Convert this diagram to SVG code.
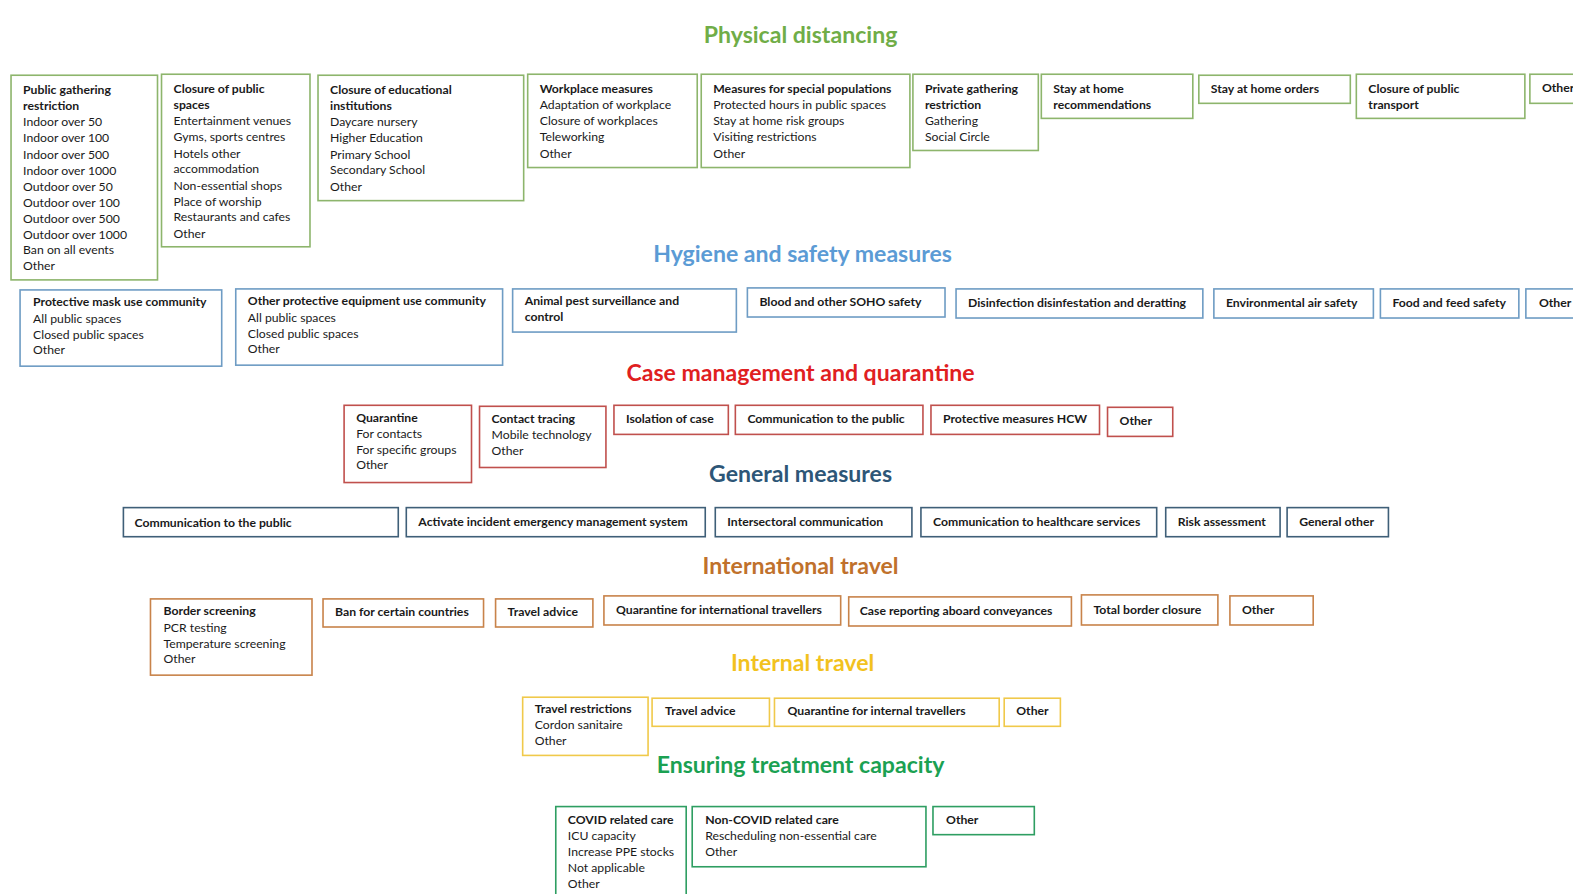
<svg xmlns="http://www.w3.org/2000/svg" width="1573" height="894" viewBox="0 0 1573 894">
<style>
text{font-family:Lato,"Open Sans","Liberation Sans",sans-serif;font-size:12.2px;fill:#1a1a1a}
.h{font-weight:bold}
.t{font-weight:bold;font-size:23px;text-anchor:middle}
rect{fill:#fff;stroke-width:1.6}
.pd rect{stroke:#8db56c}
.hy rect{stroke:#6e9cc4}
.cm rect{stroke:#c0504d}
.gm rect{stroke:#3f5f78}
.it rect{stroke:#c8834a}
.in rect{stroke:#f0c94a}
.et rect{stroke:#2e9e62}
</style>
<rect x="0" y="0" width="1573" height="894" fill="#fff" stroke="none"/>
<g transform="scale(1.0032)">
<g id="titles">
<text class="t" x="798" y="43" style="fill:#70ad47">Physical distancing</text>
<text class="t" x="800" y="261" style="fill:#5b9bd5">Hygiene and safety measures</text>
<text class="t" x="798" y="380" style="fill:#e0201f">Case management and quarantine</text>
<text class="t" x="798" y="480" style="fill:#2d5677">General measures</text>
<text class="t" x="798" y="572" style="fill:#c0712c">International travel</text>
<text class="t" x="800" y="669" style="fill:#f2c21e">Internal travel</text>
<text class="t" x="798" y="771" style="fill:#1ba152">Ensuring treatment capacity</text>
</g>
<g id="connectors"></g>

<g class="pd">
<g id="pd1"><rect x="11" y="75" width="146" height="204"/>
<text x="23" y="94"><tspan class="h">Public gathering</tspan><tspan x="23" dy="16" class="h">restriction</tspan><tspan x="23" dy="16">Indoor over 50</tspan><tspan x="23" dy="16">Indoor over 100</tspan><tspan x="23" dy="16">Indoor over 500</tspan><tspan x="23" dy="16">Indoor over 1000</tspan><tspan x="23" dy="16">Outdoor over 50</tspan><tspan x="23" dy="16">Outdoor over 100</tspan><tspan x="23" dy="16">Outdoor over 500</tspan><tspan x="23" dy="16">Outdoor over 1000</tspan><tspan x="23" dy="15">Ban on all events</tspan><tspan x="23" dy="16">Other</tspan></text></g>
<g id="pd2"><rect x="161" y="74" width="148" height="172"/>
<text x="173" y="93"><tspan class="h">Closure of public</tspan><tspan x="173" dy="16" class="h">spaces</tspan><tspan x="173" dy="16">Entertainment venues</tspan><tspan x="173" dy="16">Gyms, sports centres</tspan><tspan x="173" dy="16">Hotels other</tspan><tspan x="173" dy="15">accommodation</tspan><tspan x="173" dy="17">Non-essential shops</tspan><tspan x="173" dy="16">Place of worship</tspan><tspan x="173" dy="15">Restaurants and cafes</tspan><tspan x="173" dy="17">Other</tspan></text></g>
<g id="pd3"><rect x="317" y="75" width="205" height="125"/>
<text x="329" y="94"><tspan class="h">Closure of educational</tspan><tspan x="329" dy="16" class="h">institutions</tspan><tspan x="329" dy="16">Daycare nursery</tspan><tspan x="329" dy="16">Higher Education</tspan><tspan x="329" dy="16">Primary School</tspan><tspan x="329" dy="15">Secondary School</tspan><tspan x="329" dy="17">Other</tspan></text></g>
<g id="pd4"><rect x="526" y="74" width="169" height="93"/>
<text x="538" y="93"><tspan class="h">Workplace measures</tspan><tspan x="538" dy="16">Adaptation of workplace</tspan><tspan x="538" dy="16">Closure of workplaces</tspan><tspan x="538" dy="16">Teleworking</tspan><tspan x="538" dy="16">Other</tspan></text></g>
<g id="pd5"><rect x="699" y="74" width="208" height="93"/>
<text x="711" y="93"><tspan class="h">Measures for special populations</tspan><tspan x="711" dy="16">Protected hours in public spaces</tspan><tspan x="711" dy="16">Stay at home risk groups</tspan><tspan x="711" dy="16">Visiting restrictions</tspan><tspan x="711" dy="16">Other</tspan></text></g>
<g id="pd6"><rect x="910" y="74" width="125" height="76"/>
<text x="922" y="93"><tspan class="h">Private gathering</tspan><tspan x="922" dy="16" class="h">restriction</tspan><tspan x="922" dy="16">Gathering</tspan><tspan x="922" dy="16">Social Circle</tspan></text></g>
<g id="pd7"><rect x="1038" y="74" width="151" height="44"/>
<text x="1050" y="93"><tspan class="h">Stay at home</tspan><tspan x="1050" dy="16" class="h">recommendations</tspan></text></g>
<g id="pd8"><rect x="1195" y="75" width="151" height="28"/>
<text x="1207" y="93" class="h">Stay at home orders</text></g>
<g id="pd9"><rect x="1352" y="74" width="168" height="44"/>
<text x="1364" y="93"><tspan class="h">Closure of public</tspan><tspan x="1364" dy="16" class="h">transport</tspan></text></g>
<g id="pd10"><rect x="1525" y="74" width="60" height="29"/>
<text x="1537" y="92" class="h">Other</text></g>
</g>

<g class="hy">
<g id="hy1"><rect x="20" y="289" width="201" height="76"/>
<text x="33" y="305"><tspan class="h">Protective mask use community</tspan><tspan x="33" dy="17">All public spaces</tspan><tspan x="33" dy="16">Closed public spaces</tspan><tspan x="33" dy="15">Other</tspan></text></g>
<g id="hy2"><rect x="235" y="288" width="266" height="76"/>
<text x="247" y="304"><tspan class="h">Other protective equipment use community</tspan><tspan x="247" dy="17">All public spaces</tspan><tspan x="247" dy="16">Closed public spaces</tspan><tspan x="247" dy="15">Other</tspan></text></g>
<g id="hy3"><rect x="511" y="288" width="223" height="43"/>
<text x="523" y="304"><tspan class="h">Animal pest surveillance and</tspan><tspan x="523" dy="16" class="h">control</tspan></text></g>
<g id="hy4"><rect x="745" y="287" width="197" height="29"/>
<text x="757" y="305" class="h">Blood and other SOHO safety</text></g>
<g id="hy5"><rect x="953" y="288" width="246" height="29"/>
<text x="965" y="306" class="h">Disinfection disinfestation and deratting</text></g>
<g id="hy6"><rect x="1210" y="288" width="159" height="29"/>
<text x="1222" y="306" class="h">Environmental air safety</text></g>
<g id="hy7"><rect x="1376" y="288" width="138" height="29"/>
<text x="1388" y="306" class="h">Food and feed safety</text></g>
<g id="hy8"><rect x="1521" y="288" width="60" height="29"/>
<text x="1534" y="306" class="h">Other</text></g>
</g>

<g class="cm">
<g id="cm1"><rect x="343" y="404" width="127" height="77"/>
<text x="355" y="421"><tspan class="h">Quarantine</tspan><tspan x="355" dy="16">For contacts</tspan><tspan x="355" dy="16">For specific groups</tspan><tspan x="355" dy="15">Other</tspan></text></g>
<g id="cm2"><rect x="478" y="405" width="126" height="61"/>
<text x="490" y="422"><tspan class="h">Contact tracing</tspan><tspan x="490" dy="16">Mobile technology</tspan><tspan x="490" dy="16">Other</tspan></text></g>
<g id="cm3"><rect x="612" y="404" width="114" height="29"/>
<text x="624" y="422" class="h">Isolation of case</text></g>
<g id="cm4"><rect x="733" y="404" width="187" height="29"/>
<text x="745" y="422" class="h">Communication to the public</text></g>
<g id="cm5"><rect x="928" y="404" width="168" height="29"/>
<text x="940" y="422" class="h">Protective measures HCW</text></g>
<g id="cm6"><rect x="1104" y="406" width="65" height="29"/>
<text x="1116" y="424" class="h">Other</text></g>
</g>

<g class="gm">
<g id="gm1"><rect x="123" y="506" width="274" height="29"/>
<text x="134" y="525" class="h">Communication to the public</text></g>
<g id="gm2"><rect x="405" y="506" width="298" height="29"/>
<text x="417" y="524" class="h">Activate incident emergency management system</text></g>
<g id="gm3"><rect x="713" y="506" width="196" height="29"/>
<text x="725" y="524" class="h">Intersectoral communication</text></g>
<g id="gm4"><rect x="918" y="506" width="235" height="29"/>
<text x="930" y="524" class="h">Communication to healthcare services</text></g>
<g id="gm5"><rect x="1162" y="506" width="114" height="29"/>
<text x="1174" y="524" class="h">Risk assessment</text></g>
<g id="gm6"><rect x="1283" y="506" width="101" height="29"/>
<text x="1295" y="524" class="h">General other</text></g>
</g>

<g class="it">
<g id="it1"><rect x="150" y="597" width="161" height="76"/>
<text x="163" y="613"><tspan class="h">Border screening</tspan><tspan x="163" dy="17">PCR testing</tspan><tspan x="163" dy="16">Temperature screening</tspan><tspan x="163" dy="15">Other</tspan></text></g>
<g id="it2"><rect x="322" y="597" width="160" height="28"/>
<text x="334" y="614" class="h">Ban for certain countries</text></g>
<g id="it3"><rect x="494" y="597" width="97" height="28"/>
<text x="506" y="614" class="h">Travel advice</text></g>
<g id="it4"><rect x="602" y="594" width="236" height="29"/>
<text x="614" y="612" class="h">Quarantine for international travellers</text></g>
<g id="it5"><rect x="846" y="595" width="222" height="29"/>
<text x="857" y="613" class="h">Case reporting aboard conveyances</text></g>
<g id="it6"><rect x="1078" y="593" width="136" height="30"/>
<text x="1090" y="612" class="h">Total border closure</text></g>
<g id="it7"><rect x="1226" y="594" width="83" height="29"/>
<text x="1238" y="612" class="h">Other</text></g>
</g>

<g class="in">
<g id="in1"><rect x="521" y="695" width="125" height="58"/>
<text x="533" y="711"><tspan class="h">Travel restrictions</tspan><tspan x="533" dy="16">Cordon sanitaire</tspan><tspan x="533" dy="16">Other</tspan></text></g>
<g id="in2"><rect x="650" y="696" width="117" height="28"/>
<text x="663" y="713" class="h">Travel advice</text></g>
<g id="in3"><rect x="772" y="696" width="224" height="28"/>
<text x="785" y="713" class="h">Quarantine for internal travellers</text></g>
<g id="in4"><rect x="1001" y="696" width="56" height="28"/>
<text x="1013" y="713" class="h">Other</text></g>
</g>

<g class="et">
<g id="et1"><rect x="554" y="804" width="130" height="100"/>
<text x="566" y="821"><tspan class="h">COVID related care</tspan><tspan x="566" dy="16">ICU capacity</tspan><tspan x="566" dy="16">Increase PPE stocks</tspan><tspan x="566" dy="16">Not applicable</tspan><tspan x="566" dy="16">Other</tspan></text></g>
<g id="et2"><rect x="690" y="804" width="233" height="60"/>
<text x="703" y="821"><tspan class="h">Non-COVID related care</tspan><tspan x="703" dy="16">Rescheduling non-essential care</tspan><tspan x="703" dy="16">Other</tspan></text></g>
<g id="et3"><rect x="930" y="804" width="101" height="28"/>
<text x="943" y="821" class="h">Other</text></g>
</g>
</g>
</svg>
